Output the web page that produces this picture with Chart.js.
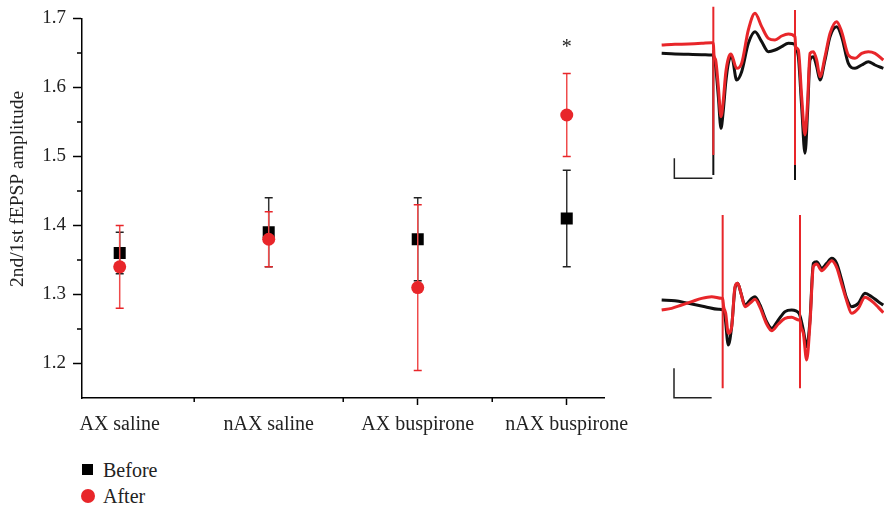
<!DOCTYPE html>
<html>
<head>
<meta charset="utf-8">
<script src="https://cdn.jsdelivr.net/npm/chart.js@4.4.1/dist/chart.umd.min.js"></script>
<style>
  body { margin: 0; background: #fff; width: 884px; height: 507px; overflow: hidden; position: relative; font-family: "Liberation Serif", serif; }
  #mainChart { position: absolute; left: 0; top: 0; }
  #traceTop { position: absolute; left: 655px; top: 0; }
  #traceBottom { position: absolute; left: 655px; top: 200px; }
  #legend { position: absolute; left: 81px; top: 457px; }
  .lg-item { position: absolute; left: 0; height: 26px; width: 120px; font-size: 20px; color: #222; }
  .lg-mark { position: absolute; background: #000; }
  .lg-text { position: absolute; left: 22px; top: 0; line-height: 26px; }
</style>
</head>
<body>
<canvas id="mainChart" width="650" height="440"></canvas>
<canvas id="traceTop" width="229" height="200"></canvas>
<canvas id="traceBottom" width="229" height="210"></canvas>
<div id="legend"></div>
<script>
// --- datos del gráfico principal ---
const categories = ['AX saline', 'nAX saline', 'AX buspirone', 'nAX buspirone'];
const beforeMean = [1.36, 1.39, 1.38, 1.41];
const beforeLow  = [1.33, 1.34, 1.32, 1.34];
const beforeHigh = [1.39, 1.44, 1.44, 1.48];
const afterMean  = [1.34, 1.38, 1.31, 1.56];
const afterLow   = [1.28, 1.34, 1.19, 1.50];
const afterHigh  = [1.40, 1.42, 1.43, 1.62];
const significance = ['', '', '', '*'];
const starLevel = 1.662;
const yTicks = [1.15, 1.2, 1.25, 1.3, 1.35, 1.4, 1.45, 1.5, 1.55, 1.6, 1.65, 1.7];
const yTitle = '2nd/1st fEPSP amplitude';

// --- trazos de fEPSP (tiempo en ms, amplitud en mV) ---
const topBlackT = [2.0, 6.0, 10.0, 14.0, 17.0, 17.5, 17.6, 18.2, 19.0, 19.8, 20.5, 21.2, 22.0, 23.0, 24.5, 26.0, 28.0, 30.0, 32.0, 34.0, 36.0, 38.0, 40.0, 42.0, 42.1, 43.0, 44.0, 45.0, 45.8, 46.5, 47.5, 48.5, 49.5, 51.0, 52.5, 54.5, 56.0, 58.0, 60.0, 62.0, 64.0, 66.0, 68.5];
const topBlackV = [-1.60, -1.62, -1.63, -1.64, -1.65, -1.65, -1.70, -2.00, -2.90, -3.85, -3.30, -2.50, -1.90, -1.70, -2.40, -2.15, -1.30, -0.95, -1.25, -1.55, -1.50, -1.40, -1.30, -1.33, -1.40, -1.70, -3.20, -4.60, -3.30, -1.80, -1.70, -2.00, -2.40, -1.80, -1.10, -0.80, -1.10, -1.90, -2.05, -1.95, -1.85, -1.95, -2.05];
const topRedT = [2.0, 6.0, 10.0, 14.0, 17.0, 17.5, 17.7, 18.2, 19.0, 19.8, 20.5, 21.2, 22.0, 22.8, 24.5, 26.0, 28.0, 30.0, 32.0, 34.0, 36.0, 38.0, 40.0, 42.0, 42.2, 43.0, 44.0, 45.0, 45.8, 46.5, 47.5, 48.5, 49.5, 51.0, 52.5, 54.5, 56.0, 58.0, 60.0, 62.0, 64.0, 66.0, 68.5];
const topRedV = [-1.35, -1.33, -1.32, -1.30, -1.28, -1.28, -1.65, -1.80, -2.60, -3.50, -3.00, -2.20, -1.75, -1.62, -2.05, -1.90, -0.90, -0.40, -0.80, -1.15, -1.20, -1.08, -1.02, -1.10, -1.40, -1.50, -2.90, -4.05, -3.00, -1.60, -1.55, -1.80, -2.30, -1.70, -1.00, -0.65, -0.95, -1.65, -1.75, -1.60, -1.55, -1.60, -1.80];
const topStimT = [17.5, 42.0];
const topRedStimHigh = [-0.20, -0.30];
const topRedStimLow = [-4.65, -4.95];
const topBlackStimLow = [-5.25, -5.40];
const topScaleT = [5.8, 5.8, 17.2];
const topScaleV = [-4.75, -5.35, -5.35];

const botBlackT = [2.0, 6.0, 10.0, 15.0, 19.0, 20.3, 21.0, 22.0, 23.0, 24.0, 24.8, 25.8, 27.0, 29.0, 30.0, 31.5, 33.5, 35.0, 37.0, 39.0, 41.0, 43.2, 44.5, 45.5, 46.5, 47.5, 48.5, 50.0, 51.5, 53.0, 54.5, 56.0, 57.5, 59.0, 61.0, 63.0, 65.0, 67.0, 68.5];
const botBlackV = [-3.00, -3.02, -3.10, -3.20, -3.28, -3.30, -3.50, -4.35, -3.80, -2.65, -2.50, -2.80, -3.15, -2.95, -2.90, -3.15, -3.65, -3.85, -3.60, -3.35, -3.30, -3.40, -3.90, -4.40, -3.60, -1.90, -1.85, -2.05, -1.90, -1.75, -1.90, -2.40, -2.95, -3.20, -3.10, -2.80, -2.90, -3.05, -3.15];
const botRedT = [2.0, 5.0, 8.0, 11.0, 14.0, 17.0, 20.0, 20.3, 20.6, 21.2, 22.0, 23.0, 24.0, 24.8, 25.8, 27.0, 29.0, 30.0, 31.5, 33.5, 35.0, 37.0, 39.0, 41.0, 43.2, 43.5, 43.8, 44.5, 45.5, 46.5, 47.5, 48.5, 50.0, 51.5, 53.0, 54.5, 56.0, 57.5, 59.0, 61.0, 63.0, 65.0, 67.0, 68.5];
const botRedV = [-3.30, -3.25, -3.15, -3.05, -2.95, -2.90, -2.95, -2.95, -3.20, -3.40, -4.00, -3.80, -2.60, -2.50, -2.80, -3.20, -3.05, -2.98, -3.22, -3.72, -3.92, -3.72, -3.55, -3.52, -3.60, -3.60, -3.80, -4.00, -4.80, -3.70, -2.00, -1.92, -2.12, -1.98, -1.82, -2.02, -2.52, -3.02, -3.40, -3.25, -2.92, -3.03, -3.22, -3.38];
const botStimT = [20.3, 43.5];
const botRedStimHigh = [-0.45, -0.45];
const botRedStimLow = [-5.65, -5.65];
const botScaleT = [5.7, 5.7, 17.0];
const botScaleV = [-5.05, -5.93, -5.93];

const FONT = '"Liberation Serif", "Times New Roman", serif';
const RED = '#e8262a';

function toPoints(xs, ys) {
    return xs.map((x, i) => ({ x: x, y: ys[i] }));
}

// segmentos verticales separados por huecos
function stimPoints(ts, highs, lows) {
    const pts = [];
    ts.forEach((t, i) => {
        pts.push({ x: t, y: highs[i] }, { x: t, y: lows[i] }, { x: t, y: null });
    });
    return pts;
}

const isMajor = (v) => Math.abs(v * 10 - Math.round(v * 10)) < 1e-6;

// Barras de error, marcas menores, asterisco y título del eje Y
const errorBarPlugin = {
    id: 'errorBars',
    beforeDatasetDraw(chart, args) {
        const ds = chart.data.datasets[args.index];
        if (!ds.errLow) return;
        const ctx = chart.ctx;
        const xs = chart.scales.x, ys = chart.scales.y;
        ctx.save();
        ctx.lineWidth = 1.5;
        ds.data.forEach((p, i) => {
            const px = xs.getPixelForValue(p.x);
            const top = ys.getPixelForValue(ds.errHigh[i]);
            const bot = ys.getPixelForValue(ds.errLow[i]);
            ctx.strokeStyle = ds.errColor;
            ctx.beginPath();
            ctx.moveTo(px, top); ctx.lineTo(px, bot);
            ctx.stroke();
            ctx.strokeStyle = ds.capColor;
            ctx.beginPath();
            ctx.moveTo(px - 4, top); ctx.lineTo(px + 4, top);
            ctx.moveTo(px - 4, bot); ctx.lineTo(px + 4, bot);
            ctx.stroke();
        });
        ctx.restore();
    },
    afterDraw(chart) {
        const ctx = chart.ctx;
        const xs = chart.scales.x, ys = chart.scales.y;
        ctx.save();
        // marcas menores
        ctx.strokeStyle = '#000';
        ctx.lineWidth = 1.5;
        ctx.beginPath();
        xs.ticks.forEach(t => {
            if (Number.isInteger(t.value)) return;
            const px = xs.getPixelForValue(t.value);
            ctx.moveTo(px, xs.top); ctx.lineTo(px, xs.top + 4);
        });
        ys.ticks.forEach(t => {
            if (isMajor(t.value) || t.value < 1.16) return;
            const py = ys.getPixelForValue(t.value);
            ctx.moveTo(ys.right, py); ctx.lineTo(ys.right - 5, py);
        });
        ctx.stroke();
        // asterisco
        ctx.fillStyle = '#222';
        ctx.font = '20px ' + FONT;
        ctx.textAlign = 'center';
        ctx.textBaseline = 'middle';
        significance.forEach((s, i) => {
            if (!s) return;
            ctx.fillText(s, xs.getPixelForValue(i), ys.getPixelForValue(starLevel) + 3);
        });
        // título del eje
        ctx.translate(18, 189);
        ctx.rotate(-Math.PI / 2);
        ctx.font = '19.5px ' + FONT;
        ctx.fillText(yTitle, 0, 0);
        ctx.restore();
    }
};

const tickColor = (c) => (c.tick && (c.scale.axis === 'x' ? Number.isInteger(c.tick.value) : isMajor(c.tick.value)) && c.tick.value > 1.16) ? '#000' : 'rgba(0,0,0,0)';

const mainChart = new Chart(document.getElementById('mainChart'), {
    type: 'scatter',
    data: {
        datasets: [{
            label: 'Before',
            data: toPoints([0, 1, 2, 3], beforeMean),
            errLow: beforeLow, errHigh: beforeHigh,
            errColor: '#333', capColor: '#222',
            pointStyle: 'rect', pointRadius: 8.5, pointHoverRadius: 8.5,
            backgroundColor: '#000', borderColor: '#000', borderWidth: 0,
            order: 2
        }, {
            label: 'After',
            data: toPoints([0, 1, 2, 3], afterMean),
            errLow: afterLow, errHigh: afterHigh,
            errColor: '#ef4b4b', capColor: RED,
            pointStyle: 'circle', pointRadius: 6.5, pointHoverRadius: 6.5,
            backgroundColor: RED, borderColor: RED, borderWidth: 0,
            order: 1
        }]
    },
    options: {
        responsive: false,
        animation: false,
        layout: { padding: { top: 15, right: 46, left: 0, bottom: 0 } },
        plugins: { legend: { display: false }, tooltip: { enabled: false } },
        scales: {
            x: {
                type: 'linear', min: -0.253, max: 3.25,
                afterBuildTicks: (s) => { s.ticks = [0, 0.5, 1, 1.5, 2, 2.5, 3].map(v => ({ value: v })); },
                afterFit: (s) => { s.height = 42; },
                border: { display: true, color: '#000', width: 1.5 },
                grid: { display: true, drawOnChartArea: false, drawTicks: true, tickLength: 7, tickColor: tickColor, tickWidth: 1.5 },
                ticks: {
                    autoSkip: false, maxRotation: 0, padding: 8, color: '#222',
                    font: { family: FONT, size: 20 },
                    callback: (v) => Number.isInteger(v) ? categories[v] : ''
                }
            },
            y: {
                min: 1.15, max: 1.7,
                afterBuildTicks: (s) => { s.ticks = yTicks.map(v => ({ value: v })); },
                afterFit: (s) => { s.width = 82; },
                border: { display: true, color: '#000', width: 1.5 },
                grid: { display: true, drawOnChartArea: false, drawTicks: true, tickLength: 9, tickColor: tickColor, tickWidth: 1.5 },
                ticks: {
                    padding: 7, color: '#222',
                    font: { family: FONT, size: 19 },
                    callback: (v) => (isMajor(v) && v > 1.16) ? v.toFixed(1) : ''
                }
            }
        }
    },
    plugins: [errorBarPlugin]
});

// Leyenda HTML construida desde los datasets
const legendEl = document.getElementById('legend');
mainChart.data.datasets.forEach((ds, i) => {
    const item = document.createElement('div');
    item.className = 'lg-item';
    item.style.top = (i * 26) + 'px';
    const mark = document.createElement('div');
    mark.className = 'lg-mark';
    mark.style.background = ds.backgroundColor;
    if (ds.pointStyle === 'circle') {
        mark.style.cssText += 'left:0;top:6px;width:14px;height:14px;border-radius:50%;';
    } else {
        mark.style.cssText += 'left:1px;top:7px;width:11px;height:11px;';
    }
    const txt = document.createElement('span');
    txt.className = 'lg-text';
    txt.textContent = ds.label;
    item.appendChild(mark);
    item.appendChild(txt);
    legendEl.appendChild(item);
});

function traceChart(id, yMin, traces, scaleT, scaleV) {
    const datasets = [{ data: toPoints(scaleT, scaleV), borderColor: '#222', borderWidth: 1.5, order: 9 }];
    traces.forEach((tr, i) => {
        datasets.push({
            data: tr.stim, borderColor: tr.color, borderWidth: 2, spanGaps: false, order: 8 - i * 2
        }, {
            data: tr.wave, borderColor: tr.color, borderWidth: 3, cubicInterpolationMode: 'monotone', order: 7 - i * 2
        });
    });
    return new Chart(document.getElementById(id), {
        type: 'scatter',
        data: { datasets: datasets },
        options: {
            responsive: false,
            animation: false,
            showLine: true,
            elements: { point: { radius: 0 } },
            layout: { padding: 0 },
            plugins: { legend: { display: false }, tooltip: { enabled: false } },
            scales: {
                x: { display: false, min: 0, max: 68.7 },
                y: { display: false, min: yMin, max: 0 }
            }
        }
    });
}

traceChart('traceTop', -6.0, [
    { color: '#111', wave: toPoints(topBlackT, topBlackV), stim: stimPoints(topStimT, [-1.5, -1.3], topBlackStimLow) },
    { color: RED, wave: toPoints(topRedT, topRedV), stim: stimPoints(topStimT, topRedStimHigh, topRedStimLow) }
], topScaleT, topScaleV);

traceChart('traceBottom', -6.3, [
    { color: '#111', wave: toPoints(botBlackT, botBlackV), stim: [] },
    { color: RED, wave: toPoints(botRedT, botRedV), stim: stimPoints(botStimT, botRedStimHigh, botRedStimLow) }
], botScaleT, botScaleV);
</script>
</body>
</html>
